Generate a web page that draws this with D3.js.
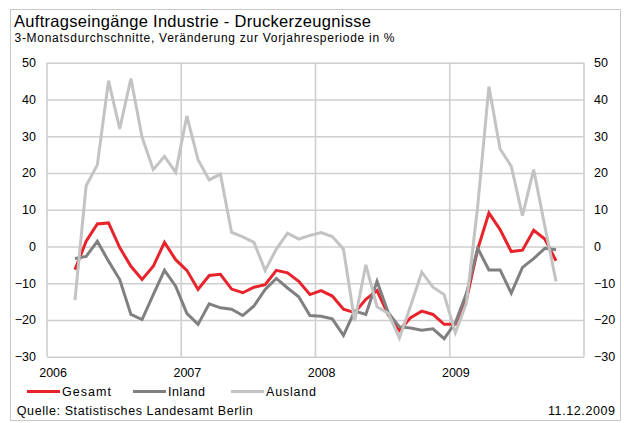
<!DOCTYPE html>
<html><head><meta charset="utf-8">
<script src="https://cdn.jsdelivr.net/npm/d3@7"></script>
<style>
body{margin:0;background:#fff;}
svg{display:block;font-family:"Liberation Sans",Arial,sans-serif;}
</style></head>
<body><svg id="c" width="624" height="423"></svg>
<script>
const months = ["2006-03","2006-04","2006-05","2006-06","2006-07","2006-08","2006-09","2006-10","2006-11","2006-12",
"2007-01","2007-02","2007-03","2007-04","2007-05","2007-06","2007-07","2007-08","2007-09","2007-10","2007-11","2007-12",
"2008-01","2008-02","2008-03","2008-04","2008-05","2008-06","2008-07","2008-08","2008-09","2008-10","2008-11","2008-12",
"2009-01","2009-02","2009-03","2009-04","2009-05","2009-06","2009-07","2009-08","2009-09","2009-10"];
const gesamt = [-6.3,1.4,6.1,6.4,-0.3,-5.4,-9.0,-5.4,1.1,-3.6,
-6.5,-11.7,-7.9,-7.6,-11.6,-12.6,-11.1,-10.4,-6.5,-7.2,-9.5,-13.1,
-12.0,-13.5,-17.1,-18.0,-14.4,-12.0,-18.6,-22.8,-19.4,-17.6,-18.5,-21.2,
-21.2,-14.4,-0.7,9.1,4.6,-1.4,-1.0,4.4,2.0,-3.9];
const inland = [-3.3,-2.7,1.4,-4.0,-9.0,-18.5,-19.9,-13.1,-6.5,-10.8,
-18.2,-21.2,-15.6,-16.7,-17.1,-18.8,-16.2,-11.7,-8.7,-11.3,-13.7,-18.8,
-19.0,-19.7,-24.2,-17.6,-18.5,-9.5,-18.0,-21.9,-22.2,-22.8,-22.4,-25.1,
-20.8,-12.7,-0.5,-6.4,-6.4,-12.7,-5.7,-3.3,-0.5,-0.9];
const ausland = [-14.6,16.5,22.2,45.1,32.0,45.7,29.7,20.9,24.5,20.2,
35.5,23.6,18.1,19.7,3.8,2.6,1.1,-6.5,-0.7,3.6,2.0,3.0,
3.8,2.7,-0.7,-20.3,-5.0,-16.4,-18.2,-24.9,-16.2,-7.0,-11.1,-13.1,
-23.5,-15.3,11.0,43.5,26.5,21.8,8.4,20.9,5.5,-9.5];
const yTicks = [50,40,30,20,10,0,-10,-20,-30];
const yearLabels = ["2006","2007","2008","2009"];
const seriesNames = ["Gesamt","Inland","Ausland"];
const seriesColors = ["#e8232b","#808080","#c3c3c3"];

const svg = d3.select("#c");
const L = 47, R = 584, T = 62.7, B = 356.7;
const x = d3.scaleLinear().domain([0,48]).range([L,R]);
const y = d3.scaleLinear().domain([-30,50]).range([B,T]);
const mIdx = s => { const [yy,mm] = s.split("-").map(Number); return (yy-2006)*12 + (mm-1); };

// outer frame
svg.append("rect").attr("x",10.5).attr("y",9.5).attr("width",610).attr("height",411)
  .attr("fill","none").attr("stroke","#c8c8c8").attr("stroke-width",1);

svg.append("text").attr("x",14).attr("y",27).attr("font-size",16.5).attr("fill","#000")
  .attr("textLength",357).attr("lengthAdjust","spacing")
  .text("Auftragseingänge Industrie - Druckerzeugnisse");
svg.append("text").attr("x",14.5).attr("y",41.5).attr("font-size",12).attr("fill","#000")
  .attr("textLength",380).attr("lengthAdjust","spacing")
  .text("3-Monatsdurchschnitte, Veränderung zur Vorjahresperiode in %");

const grid = svg.append("g");
const yAxisL = d3.axisLeft(y).tickValues(yTicks).tickSize(-(R-L)).tickPadding(11);
const gL = svg.append("g").attr("transform",`translate(${L},0)`).call(yAxisL);
gL.select(".domain").remove();
gL.selectAll(".tick line").attr("stroke","#cfcfcf").attr("stroke-width",1.6);
gL.selectAll(".tick text").attr("font-size",12.5).attr("fill","#000").attr("font-family","Liberation Sans, Arial, sans-serif");

const yAxisR = d3.axisRight(y).tickValues(yTicks).tickSize(0).tickPadding(10);
const gR = svg.append("g").attr("transform",`translate(${R},0)`).call(yAxisR);
gR.select(".domain").remove();
gR.selectAll(".tick text").attr("font-size",12.5).attr("fill","#000").attr("font-family","Liberation Sans, Arial, sans-serif");

const yearBounds = yearLabels.map((d,i)=>i*12).concat([48]);
grid.selectAll("line.v").data(yearBounds).join("line")
  .attr("x1",d=>x(d)).attr("x2",d=>x(d)).attr("y1",T).attr("y2",B)
  .attr("stroke","#cfcfcf").attr("stroke-width",1.6);

const xAxis = d3.axisBottom(x).tickValues(yearLabels.map((d,i)=>i*12+0.5))
  .tickFormat((d,i)=>yearLabels[i]).tickSize(0).tickPadding(11);
const gX = svg.append("g").attr("transform",`translate(0,${B})`).call(xAxis);
gX.select(".domain").remove();
gX.selectAll(".tick text").attr("font-size",12.5).attr("fill","#000").attr("font-family","Liberation Sans, Arial, sans-serif");

const series = [gesamt, inland, ausland];
const line = d3.line().x((d,i)=>x(mIdx(months[i])+0.5)).y(d=>y(d));
[0,1,2].forEach(k=>{
  svg.append("path").datum(series[k]).attr("d",line)
    .attr("fill","none").attr("stroke",seriesColors[k]).attr("stroke-width",3)
    .attr("stroke-linejoin","miter");
});

const legX = [27,133,231];
const legW = [49,37,50];
const leg = svg.append("g");
seriesNames.forEach((n,k)=>{
  leg.append("line").attr("x1",legX[k]).attr("x2",legX[k]+33).attr("y1",391.5).attr("y2",391.5)
    .attr("stroke",seriesColors[k]).attr("stroke-width",3);
  leg.append("text").attr("x",legX[k]+35).attr("y",396).attr("font-size",12.5)
    .attr("textLength",legW[k]).attr("lengthAdjust","spacing").text(n);
});

svg.append("text").attr("x",16.8).attr("y",415).attr("font-size",12.5)
  .attr("textLength",236).attr("lengthAdjust","spacing").text("Quelle: Statistisches Landesamt Berlin");
svg.append("text").attr("x",548).attr("y",415).attr("font-size",12.5)
  .attr("textLength",67).attr("lengthAdjust","spacing").text("11.12.2009");
</script></body></html>
